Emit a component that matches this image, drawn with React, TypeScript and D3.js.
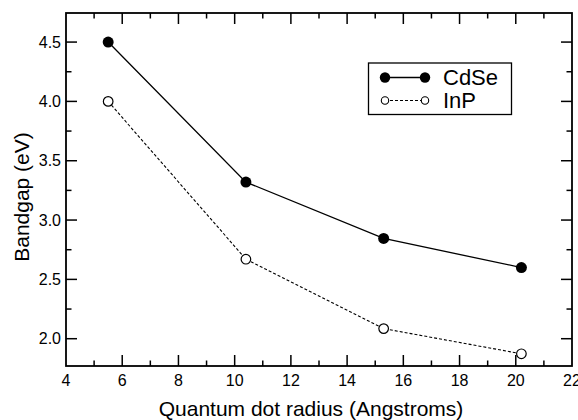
import React, { useRef, useEffect } from "react";
import * as d3 from "d3";

const radius = [5.5, 10.4, 15.3, 20.2];
const cdse = [4.5, 3.32, 2.845, 2.6];
const inp = [4.0, 2.67, 2.085, 1.873];
const xTicks = [4, 6, 8, 10, 12, 14, 16, 18, 20, 22];
const yTicks = [2.0, 2.5, 3.0, 3.5, 4.0, 4.5];

const App = () => {
  const ref = useRef<SVGSVGElement>(null);

  useEffect(() => {
    if (!ref.current) return;
    const svg = d3.select(ref.current);
    svg.selectAll("*").remove();

    const W = 578,
      H = 420;
    const margin = { top: 13, right: 6, bottom: 54, left: 66 };
    const width = W - margin.left - margin.right,
      height = H - margin.top - margin.bottom;
    const font = "'Liberation Sans', Arial, Helvetica, sans-serif";

    const x = d3.scaleLinear().domain([4, 22]).range([0, width]);
    const y = d3.scaleLinear().domain([1.77, 4.745]).range([height, 0]);

    const g = svg
      .append("g")
      .attr("transform", `translate(${margin.left},${margin.top})`);

    // frame
    g.append("rect")
      .attr("width", width)
      .attr("height", height)
      .attr("fill", "none")
      .attr("stroke", "#000")
      .attr("stroke-width", 1.8);

    const major = 11,
      minor = 5.5;
    const xMinor = d3.range(5, 22, 2);
    const yMinor = d3.range(2.25, 4.75, 0.5);

    const tickLines = g.append("g").attr("stroke", "#000").attr("stroke-width", 1.5);
    const addX = (vals: number[], len: number) => {
      vals.forEach((v) => {
        tickLines.append("line").attr("x1", x(v)).attr("x2", x(v)).attr("y1", height).attr("y2", height - len);
        tickLines.append("line").attr("x1", x(v)).attr("x2", x(v)).attr("y1", 0).attr("y2", len);
      });
    };
    const addY = (vals: number[], len: number) => {
      vals.forEach((v) => {
        tickLines.append("line").attr("x1", 0).attr("x2", len).attr("y1", y(v)).attr("y2", y(v));
        tickLines.append("line").attr("x1", width).attr("x2", width - len).attr("y1", y(v)).attr("y2", y(v));
      });
    };
    addX(xTicks.slice(1, -1), major);
    addX(xMinor, minor);
    addY(yTicks, major);
    addY(yMinor, minor);

    // tick labels
    g.selectAll(".xl")
      .data(xTicks)
      .enter()
      .append("text")
      .attr("x", (d) => x(d))
      .attr("y", height + 20)
      .attr("text-anchor", "middle")
      .attr("font-family", font)
      .attr("font-size", 16)
      .text((d) => String(d));

    g.selectAll(".yl")
      .data(yTicks)
      .enter()
      .append("text")
      .attr("x", -5)
      .attr("y", (d) => y(d) + 5.5)
      .attr("text-anchor", "end")
      .attr("font-family", font)
      .attr("font-size", 16)
      .text((d) => d.toFixed(1));

    // axis titles
    svg
      .append("text")
      .attr("x", 311)
      .attr("y", 416)
      .attr("text-anchor", "middle")
      .attr("font-family", font)
      .attr("font-size", 21)
      .text("Quantum dot radius (Angstroms)");

    svg
      .append("text")
      .attr("transform", `translate(29,197) rotate(-90)`)
      .attr("text-anchor", "middle")
      .attr("font-family", font)
      .attr("font-size", 21)
      .text("Bandgap (eV)");

    const line = d3
      .line<number>()
      .x((_, i) => x(radius[i]))
      .y((d) => y(d));

    g.append("path")
      .datum(cdse)
      .attr("d", line)
      .attr("fill", "none")
      .attr("stroke", "#000")
      .attr("stroke-width", 1.3);

    g.append("path")
      .datum(inp)
      .attr("d", line)
      .attr("fill", "none")
      .attr("stroke", "#000")
      .attr("stroke-width", 1.1)
      .attr("stroke-dasharray", "3,2");

    g.selectAll(".cd")
      .data(cdse)
      .enter()
      .append("circle")
      .attr("cx", (_, i) => x(radius[i]))
      .attr("cy", (d) => y(d))
      .attr("r", 5.5)
      .attr("fill", "#000");

    g.selectAll(".ip")
      .data(inp)
      .enter()
      .append("circle")
      .attr("cx", (_, i) => x(radius[i]))
      .attr("cy", (d) => y(d))
      .attr("r", 4.8)
      .attr("fill", "#fff")
      .attr("stroke", "#000")
      .attr("stroke-width", 1.2);

    // legend
    const lg = svg.append("g");
    lg.append("rect")
      .attr("x", 368.5)
      .attr("y", 63)
      .attr("width", 143)
      .attr("height", 51.5)
      .attr("fill", "#fff")
      .attr("stroke", "#000")
      .attr("stroke-width", 1.3);
    lg.append("line").attr("x1", 385).attr("x2", 425).attr("y1", 77.5).attr("y2", 77.5).attr("stroke", "#000").attr("stroke-width", 1.3);
    [385, 425].forEach((cx) =>
      lg.append("circle").attr("cx", cx).attr("cy", 77.5).attr("r", 5.2).attr("fill", "#000")
    );
    lg.append("line").attr("x1", 385).attr("x2", 425).attr("y1", 100.5).attr("y2", 100.5).attr("stroke", "#000").attr("stroke-width", 1.1).attr("stroke-dasharray", "3,2");
    [385, 425].forEach((cx) =>
      lg.append("circle").attr("cx", cx).attr("cy", 100.5).attr("r", 3.7).attr("fill", "#fff").attr("stroke", "#000").attr("stroke-width", 1.1)
    );
    lg.append("text").attr("x", 443).attr("y", 85).attr("font-family", font).attr("font-size", 22).text("CdSe");
    lg.append("text").attr("x", 443).attr("y", 108).attr("font-family", font).attr("font-size", 22).text("InP");
  }, []);

  return (
    <svg
      width={578}
      height={420}
      ref={ref}
      style={{ position: "absolute", left: 0, top: 0, background: "#fff" }}
    />
  );
};

export default App;
